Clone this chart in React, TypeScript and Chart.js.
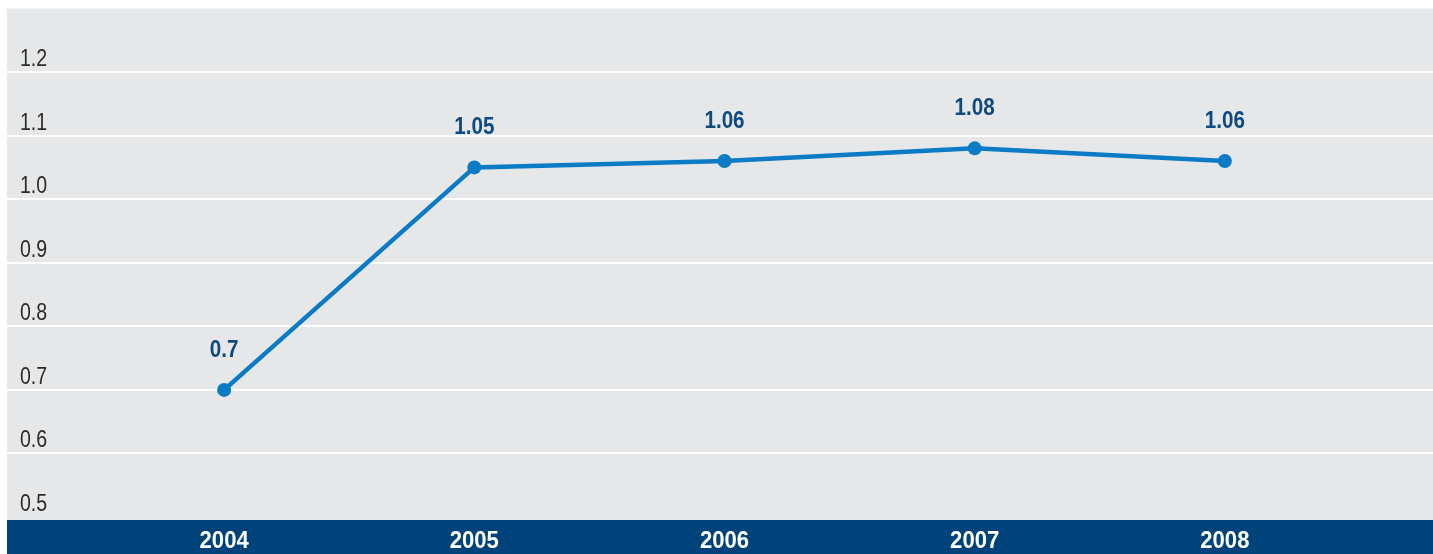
import React, { useEffect, useRef } from "react";
import { Chart, registerables } from "chart.js";

Chart.register(...registerables);

const years = [2004, 2005, 2006, 2007, 2008];
const values = [0.7, 1.05, 1.06, 1.08, 1.06];
const valueLabels = ["0.7", "1.05", "1.06", "1.08", "1.06"];
const yTickValues = [0.5, 0.6, 0.7, 0.8, 0.9, 1.0, 1.1, 1.2];
const yTickLabels = ["0.5", "0.6", "0.7", "0.8", "0.9", "1.0", "1.1", "1.2"];

const FONT = '"Liberation Sans", Arial, sans-serif';

function condensedText(ctx: any, text: string, x: number, y: number, sx: number, align: string) {
  ctx.save();
  ctx.translate(x, y);
  ctx.scale(sx, 1);
  ctx.textAlign = align;
  ctx.fillText(text, 0, 0);
  ctx.restore();
}

const decor = {
  id: "decor",
  beforeDraw(chart: any) {
    const { ctx, chartArea, width, height } = chart;
    ctx.save();
    ctx.fillStyle = "#e6e7e9";
    ctx.fillRect(chartArea.left, chartArea.top, width - chartArea.left, chartArea.bottom + 3 - chartArea.top);
    ctx.fillStyle = "#00437a";
    ctx.fillRect(chartArea.left, chartArea.bottom + 3, width - chartArea.left, height - chartArea.bottom - 3);
    ctx.restore();
  },
  afterDraw(chart: any) {
    const { ctx } = chart;
    const xs = chart.scales.x;
    const ys = chart.scales.y;
    ctx.save();
    ctx.textBaseline = "alphabetic";
    // y tick labels
    ctx.font = `23px ${FONT}`;
    ctx.fillStyle = "#2a2a2a";
    yTickValues.forEach((v, i) => {
      condensedText(ctx, yTickLabels[i], 20, ys.getPixelForValue(v) - 6, 0.85, "left");
    });
    // x labels
    ctx.font = `bold 24px ${FONT}`;
    ctx.fillStyle = "#ffffff";
    years.forEach((yr) => {
      condensedText(ctx, String(yr), xs.getPixelForValue(yr), 548, 0.92, "center");
    });
    // data labels
    ctx.fillStyle = "#0d4a80";
    const meta = chart.getDatasetMeta(0);
    meta.data.forEach((pt: any, i: number) => {
      condensedText(ctx, valueLabels[i], pt.x, pt.y - 33, 0.86, "center");
    });
    ctx.restore();
  },
};

export default function App() {
  const ref = useRef<HTMLCanvasElement>(null);
  useEffect(() => {
    if (!ref.current) return;
    const chart = new Chart(ref.current, {
      type: "line",
      data: {
        datasets: [
          {
            data: years.map((yr, i) => ({ x: yr, y: values[i] })),
            borderColor: "#0a7bc4",
            backgroundColor: "#0a7bc4",
            borderWidth: 4.5,
            pointRadius: 7,
            pointHoverRadius: 7,
            pointBackgroundColor: "#0a7bc4",
            pointBorderWidth: 0,
            tension: 0,
          },
        ],
      },
      options: {
        animation: false,
        responsive: true,
        maintainAspectRatio: false,
        layout: { autoPadding: false, padding: { left: 7, top: 8.5, right: 0, bottom: 37 } },
        plugins: { legend: { display: false }, tooltip: { enabled: false } },
        scales: {
          x: {
            type: "linear",
            min: 2003.132,
            max: 2008.832,
            display: false,
          },
          y: {
            min: 0.5,
            max: 1.3,
            display: true,
            ticks: { display: false, stepSize: 0.1 },
            border: { display: false },
            grid: {
              drawTicks: false,
              lineWidth: 2,
              color: (c: any) => {
                const v = c.tick ? c.tick.value : 0;
                return v < 0.55 || v > 1.25 ? "rgba(0,0,0,0)" : "#ffffff";
              },
            },
          },
        },
      },
      plugins: [decor],
    });
    return () => chart.destroy();
  }, []);
  return (
    <div style={{ position: "absolute", left: 0, top: 0, width: 1433, height: 554 }}>
      <canvas ref={ref} />
    </div>
  );
}
